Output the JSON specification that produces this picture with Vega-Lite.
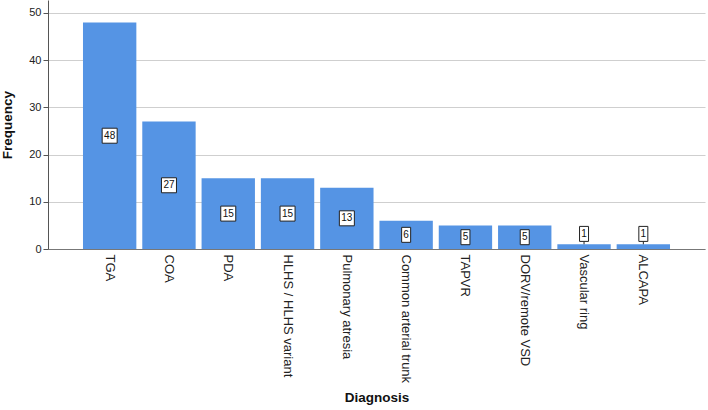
{
  "$schema": "https://vega.github.io/schema/vega-lite/v6.json",
  "width": 657,
  "height": 249,
  "autosize": {"type": "none"},
  "padding": {"left": 48, "top": 0, "right": 3, "bottom": 161},
  "background": "white",
  "config": {
    "font": "Liberation Sans",
    "view": {"stroke": null},
    "axis": {"labelFont": "Liberation Sans", "titleFont": "Liberation Sans"}
  },
  "data": {
    "values": [
      {"diagnosis": "TGA", "count": 48},
      {"diagnosis": "COA", "count": 27},
      {"diagnosis": "PDA", "count": 15},
      {"diagnosis": "HLHS / HLHS variant", "count": 15},
      {"diagnosis": "Pulmonary atresia", "count": 13},
      {"diagnosis": "Common arterial trunk", "count": 6},
      {"diagnosis": "TAPVR", "count": 5},
      {"diagnosis": "DORV/remote VSD", "count": 5},
      {"diagnosis": "Vascular ring", "count": 1},
      {"diagnosis": "ALCAPA", "count": 1}
    ]
  },
  "transform": [
    {"calculate": "datum.count >= 3 ? datum.count / 2 : datum.count + 2.2", "as": "mid"}
  ],
  "encoding": {
    "x": {
      "field": "diagnosis",
      "type": "nominal",
      "sort": null,
      "scale": {"paddingInner": 0.1, "paddingOuter": 0.59},
      "axis": {
        "title": "Diagnosis",
        "titleFontSize": 13.5,
        "titleFontWeight": "bold",
        "titleColor": "#111",
        "titlePadding": 8,
        "labelAngle": 90,
        "labelFontSize": 13,
        "labelColor": "#222",
        "labelPadding": 5,
        "ticks": false,
        "domainColor": "#777",
        "grid": false
      }
    }
  },
  "layer": [
    {
      "mark": {"type": "bar", "color": "#5594e4"},
      "encoding": {
        "y": {
          "field": "count",
          "type": "quantitative",
          "scale": {"domain": [0, 52.75], "nice": false},
          "axis": {
            "title": "Frequency",
            "titleFontSize": 13.5,
            "titleFontWeight": "bold",
            "titleColor": "#111",
            "titlePadding": 14,
            "values": [0, 10, 20, 30, 40, 50],
            "labelFontSize": 11,
            "labelColor": "#222",
            "tickSize": 5,
            "tickColor": "#555",
            "domainColor": "#555",
            "gridColor": "#cfcfcf",
            "gridWidth": 1.2
          }
        }
      }
    },
    {
      "transform": [{"filter": "datum.count < 3"}],
      "mark": {"type": "rule", "color": "#222", "strokeWidth": 1, "y2Offset": 7.5},
      "encoding": {
        "y": {"field": "count", "type": "quantitative"},
        "y2": {"field": "mid"}
      }
    },
    {
      "transform": [{"filter": "datum.count >= 10"}],
      "mark": {"type": "bar", "color": "white", "stroke": "#222", "strokeWidth": 1, "width": 15, "yOffset": -7.5, "y2Offset": 7.5},
      "encoding": {
        "y": {"field": "mid", "type": "quantitative"},
        "y2": {"field": "mid"}
      }
    },
    {
      "transform": [{"filter": "datum.count < 10"}],
      "mark": {"type": "bar", "color": "white", "stroke": "#222", "strokeWidth": 1, "width": 9, "yOffset": -7.5, "y2Offset": 7.5},
      "encoding": {
        "y": {"field": "mid", "type": "quantitative"},
        "y2": {"field": "mid"}
      }
    },
    {
      "mark": {"type": "text", "fontSize": 10, "color": "#111", "baseline": "middle", "align": "center"},
      "encoding": {
        "y": {"field": "mid", "type": "quantitative"},
        "text": {"field": "count", "type": "quantitative"}
      }
    }
  ]
}
